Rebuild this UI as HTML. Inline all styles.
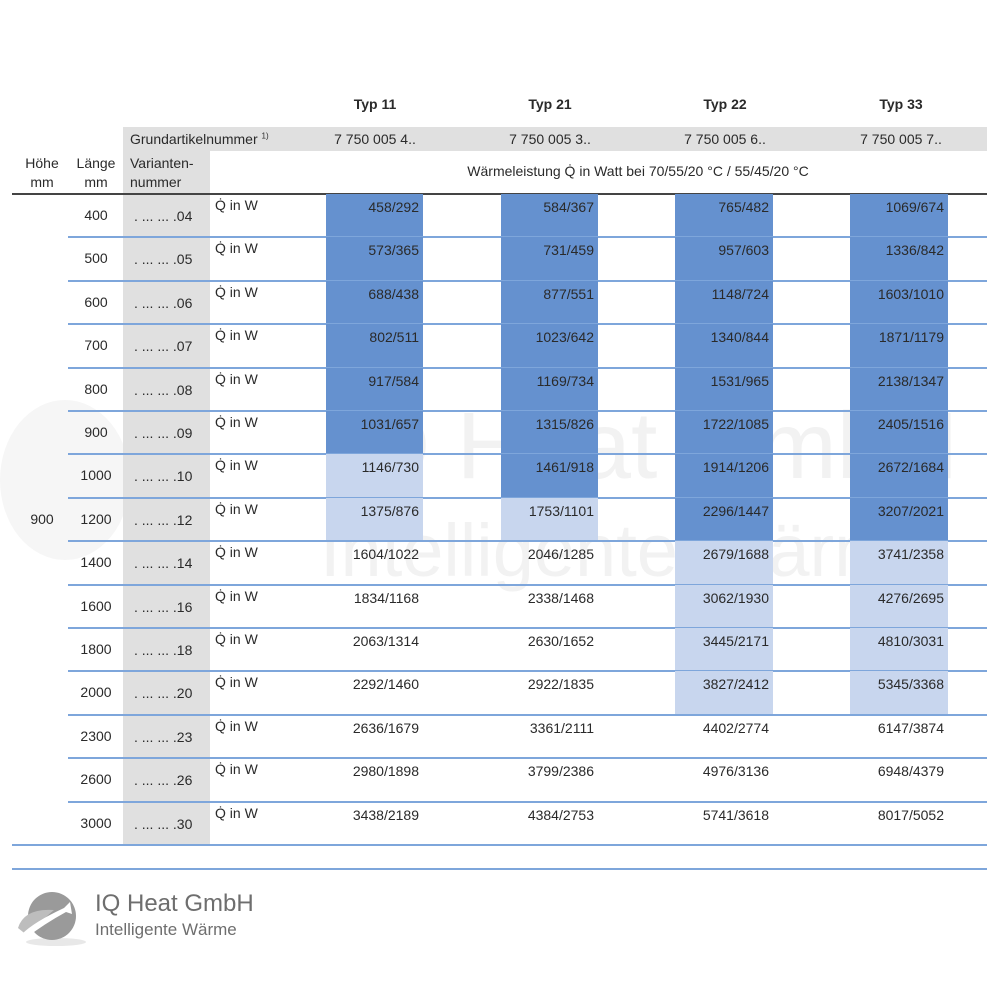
<!DOCTYPE html>
<html><head><meta charset="utf-8"><style>
body{margin:0;width:1000px;height:1000px;background:#fff;position:relative;overflow:hidden;font-family:"Liberation Sans",sans-serif;color:#2a2a2a}
div{position:absolute}
.t{font-size:14px;white-space:nowrap}
.b{font-weight:bold}
.r{left:0;width:1000px;height:43.4px}
.ln{left:68px;width:919px;height:2px;background:#7ea6db;bottom:-1px}
.l{left:66px;width:60px;text-align:center;top:13px;font-size:14px}
.v{left:134px;top:14px;font-size:14px}
.q{left:215px;top:3px;font-size:14px}
.c{top:0;height:43.4px;text-align:right;font-size:14px;padding-top:5px;box-sizing:border-box;padding-right:4px}
.c1{left:326px;width:97px}.c2{left:501px;width:97px}.c3{left:675px;width:98px}.c4{left:850px;width:98px}
.d{background:#6591cf}.p{background:#c8d6ee}
</style></head><body>
<div style="left:330px;top:392px;font-size:95px;color:#f2f2f2;white-space:nowrap;width:660px;overflow:hidden">IQ Heat GmbH</div>
<div style="left:320px;top:508px;font-size:74px;color:#f2f2f2;white-space:nowrap;width:670px;overflow:hidden">Intelligente Wärme</div>
<div style="left:0px;top:400px;width:130px;height:160px;border-radius:50%;background:#f6f6f6"></div>
<div style="left:123px;top:127px;width:864px;height:24px;background:#e0e0e0"></div>
<div style="left:123px;top:151px;width:87px;height:694px;background:#e0e0e0"></div>
<div class="t b" style="left:325px;top:96px;width:100px;text-align:center">Typ 11</div>
<div class="t b" style="left:500px;top:96px;width:100px;text-align:center">Typ 21</div>
<div class="t b" style="left:675px;top:96px;width:100px;text-align:center">Typ 22</div>
<div class="t b" style="left:851px;top:96px;width:100px;text-align:center">Typ 33</div>
<div class="t" style="left:130px;top:131px">Grundartikelnummer <sup style="font-size:8px">1)</sup></div>
<div class="t" style="left:325px;top:131px;width:100px;text-align:center">7 750 005 4..</div>
<div class="t" style="left:500px;top:131px;width:100px;text-align:center">7 750 005 3..</div>
<div class="t" style="left:675px;top:131px;width:100px;text-align:center">7 750 005 6..</div>
<div class="t" style="left:851px;top:131px;width:100px;text-align:center">7 750 005 7..</div>
<div class="t" style="left:17px;top:154px;width:50px;text-align:center;line-height:19px">Höhe<br>mm</div>
<div class="t" style="left:71px;top:154px;width:50px;text-align:center;line-height:19px">Länge<br>mm</div>
<div class="t" style="left:130px;top:154px;line-height:19px">Varianten-<br>nummer</div>
<div class="t" style="left:338px;top:163px;width:600px;text-align:center">Wärmeleistung Q̇ in Watt bei 70/55/20 °C / 55/45/20 °C</div>
<div style="left:12px;top:193px;width:975px;height:2px;background:#444"></div>
<div class="t" style="left:17px;top:511px;width:50px;text-align:center">900</div>

<div class="r" style="top:194px"><div class="l">400</div><div class="v">. ... ... .04</div><div class="q">Q̇ in W</div><div class="c c1 d">458/292</div><div class="c c2 d">584/367</div><div class="c c3 d">765/482</div><div class="c c4 d">1069/674</div><div class="ln"></div></div>
<div class="r" style="top:237.4px"><div class="l">500</div><div class="v">. ... ... .05</div><div class="q">Q̇ in W</div><div class="c c1 d">573/365</div><div class="c c2 d">731/459</div><div class="c c3 d">957/603</div><div class="c c4 d">1336/842</div><div class="ln"></div></div>
<div class="r" style="top:280.8px"><div class="l">600</div><div class="v">. ... ... .06</div><div class="q">Q̇ in W</div><div class="c c1 d">688/438</div><div class="c c2 d">877/551</div><div class="c c3 d">1148/724</div><div class="c c4 d">1603/1010</div><div class="ln"></div></div>
<div class="r" style="top:324.2px"><div class="l">700</div><div class="v">. ... ... .07</div><div class="q">Q̇ in W</div><div class="c c1 d">802/511</div><div class="c c2 d">1023/642</div><div class="c c3 d">1340/844</div><div class="c c4 d">1871/1179</div><div class="ln"></div></div>
<div class="r" style="top:367.6px"><div class="l">800</div><div class="v">. ... ... .08</div><div class="q">Q̇ in W</div><div class="c c1 d">917/584</div><div class="c c2 d">1169/734</div><div class="c c3 d">1531/965</div><div class="c c4 d">2138/1347</div><div class="ln"></div></div>
<div class="r" style="top:411px"><div class="l">900</div><div class="v">. ... ... .09</div><div class="q">Q̇ in W</div><div class="c c1 d">1031/657</div><div class="c c2 d">1315/826</div><div class="c c3 d">1722/1085</div><div class="c c4 d">2405/1516</div><div class="ln"></div></div>
<div class="r" style="top:454.4px"><div class="l">1000</div><div class="v">. ... ... .10</div><div class="q">Q̇ in W</div><div class="c c1 p">1146/730</div><div class="c c2 d">1461/918</div><div class="c c3 d">1914/1206</div><div class="c c4 d">2672/1684</div><div class="ln"></div></div>
<div class="r" style="top:497.8px"><div class="l">1200</div><div class="v">. ... ... .12</div><div class="q">Q̇ in W</div><div class="c c1 p">1375/876</div><div class="c c2 p">1753/1101</div><div class="c c3 d">2296/1447</div><div class="c c4 d">3207/2021</div><div class="ln"></div></div>
<div class="r" style="top:541.2px"><div class="l">1400</div><div class="v">. ... ... .14</div><div class="q">Q̇ in W</div><div class="c c1">1604/1022</div><div class="c c2">2046/1285</div><div class="c c3 p">2679/1688</div><div class="c c4 p">3741/2358</div><div class="ln"></div></div>
<div class="r" style="top:584.6px"><div class="l">1600</div><div class="v">. ... ... .16</div><div class="q">Q̇ in W</div><div class="c c1">1834/1168</div><div class="c c2">2338/1468</div><div class="c c3 p">3062/1930</div><div class="c c4 p">4276/2695</div><div class="ln"></div></div>
<div class="r" style="top:628px"><div class="l">1800</div><div class="v">. ... ... .18</div><div class="q">Q̇ in W</div><div class="c c1">2063/1314</div><div class="c c2">2630/1652</div><div class="c c3 p">3445/2171</div><div class="c c4 p">4810/3031</div><div class="ln"></div></div>
<div class="r" style="top:671.4px"><div class="l">2000</div><div class="v">. ... ... .20</div><div class="q">Q̇ in W</div><div class="c c1">2292/1460</div><div class="c c2">2922/1835</div><div class="c c3 p">3827/2412</div><div class="c c4 p">5345/3368</div><div class="ln"></div></div>
<div class="r" style="top:714.8px"><div class="l">2300</div><div class="v">. ... ... .23</div><div class="q">Q̇ in W</div><div class="c c1">2636/1679</div><div class="c c2">3361/2111</div><div class="c c3">4402/2774</div><div class="c c4">6147/3874</div><div class="ln"></div></div>
<div class="r" style="top:758.2px"><div class="l">2600</div><div class="v">. ... ... .26</div><div class="q">Q̇ in W</div><div class="c c1">2980/1898</div><div class="c c2">3799/2386</div><div class="c c3">4976/3136</div><div class="c c4">6948/4379</div><div class="ln"></div></div>
<div class="r" style="top:801.6px"><div class="l">3000</div><div class="v">. ... ... .30</div><div class="q">Q̇ in W</div><div class="c c1">3438/2189</div><div class="c c2">4384/2753</div><div class="c c3">5741/3618</div><div class="c c4">8017/5052</div><div class="ln" style="left:12px;width:975px"></div></div>
<div style="left:12px;top:868px;width:975px;height:2px;background:#7ea6db"></div>

<svg style="position:absolute;left:14px;top:888px" width="75" height="60" viewBox="0 0 75 60">
<ellipse cx="42" cy="54" rx="30" ry="4" fill="#e8e8e8"/>
<circle cx="38" cy="28" r="24" fill="#9a9a9a"/>
<path d="M4 40 Q10 20 40 22 Q30 30 14 48 Z" fill="#bdbdbd"/>
<path d="M8 46 Q20 34 50 20 L56 14 L58 26 L52 24 Q30 36 12 50 Z" fill="#fff"/>
</svg>
<div style="left:95px;top:890px;font-size:24px;color:#6e6e6e;white-space:nowrap">IQ Heat GmbH</div>
<div style="left:95px;top:920px;font-size:17px;color:#6e6e6e;white-space:nowrap">Intelligente Wärme</div>
</body></html>
